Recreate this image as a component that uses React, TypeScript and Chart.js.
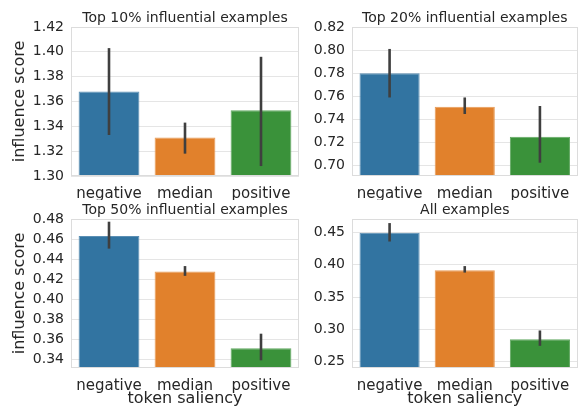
import React, { useEffect, useRef } from "react";
import { Chart, registerables } from "chart.js";

Chart.register(...registerables);

const categories = ["negative", "median", "positive"];

const top10Values = [1.368, 1.331, 1.353];
const top10Low = [1.333, 1.318, 1.308];
const top10High = [1.403, 1.343, 1.396];
const top10Ticks = [1.3, 1.32, 1.34, 1.36, 1.38, 1.4, 1.42];

const top20Values = [0.78, 0.751, 0.725];
const top20Low = [0.759, 0.7447, 0.7025];
const top20High = [0.801, 0.759, 0.7516];
const top20Ticks = [0.7, 0.72, 0.74, 0.76, 0.78, 0.8, 0.82];

const top50Values = [0.4637, 0.428, 0.351];
const top50Low = [0.451, 0.4237, 0.339];
const top50High = [0.478, 0.4335, 0.3657];
const top50Ticks = [0.34, 0.36, 0.38, 0.4, 0.42, 0.44, 0.46, 0.48];

const allValues = [0.4495, 0.3917, 0.285];
const allLow = [0.436, 0.388, 0.2748];
const allHigh = [0.4645, 0.398, 0.2985];
const allTicks = [0.25, 0.3, 0.35, 0.4, 0.45];

const barColors = ["#3274a1", "#e1812c", "#3a923a"];
const barEdges = ["#5b8fb4", "#e89a55", "#62a862"];
const TEXT = "#262626";
const FONT = "'DejaVu Sans', sans-serif";

type PanelCfg = {
  title: string;
  values: number[];
  low: number[];
  high: number[];
  ticks: number[];
  min: number;
  max: number;
  left: number;
  top: number;
  width: number;
  height: number;
  yw: number;
  xh: number;
  padRight: number;
  titlePadTop: number;
  titlePadBottom: number;
  showYTitle: boolean;
  showXTitle: boolean;
};

const errorBarPlugin = {
  id: "errorBars",
  afterDatasetsDraw(chart: any, _args: any, opts: any) {
    const { ctx } = chart;
    const meta = chart.getDatasetMeta(0);
    const y = chart.scales.y;
    ctx.save();
    ctx.strokeStyle = "#3f3f3f";
    ctx.lineWidth = 2.6;
    ctx.lineCap = "butt";
    meta.data.forEach((bar: any, i: number) => {
      const y1 = y.getPixelForValue(opts.low[i]);
      const y2 = y.getPixelForValue(opts.high[i]);
      ctx.beginPath();
      ctx.moveTo(bar.x, y1);
      ctx.lineTo(bar.x, y2);
      ctx.stroke();
    });
    ctx.restore();
  },
  afterDraw(chart: any) {
    const { ctx, chartArea: a } = chart;
    ctx.save();
    ctx.strokeStyle = "#dcdcdc";
    ctx.lineWidth = 1;
    ctx.strokeRect(Math.round(a.left) + 0.5, Math.round(a.top) + 0.5, Math.round(a.right - a.left) - 1, Math.round(a.bottom - a.top) - 1);
    ctx.restore();
  },
};

function Panel({ cfg }: { cfg: PanelCfg }) {
  const ref = useRef<HTMLCanvasElement | null>(null);
  useEffect(() => {
    if (!ref.current) return;
    const chart = new Chart(ref.current, {
      type: "bar",
      data: {
        labels: categories,
        datasets: [
          {
            data: cfg.values,
            backgroundColor: barColors,
            borderColor: barEdges,
            borderWidth: 1,
            categoryPercentage: 1,
            barPercentage: 0.8,
          },
        ],
      },
      options: {
        responsive: false,
        animation: false,
        devicePixelRatio: 1,
        layout: { padding: { left: 0, right: cfg.padRight, top: 0, bottom: 0 } },
        plugins: {
          legend: { display: false },
          tooltip: { enabled: false },
          title: {
            display: true,
            text: cfg.title,
            color: TEXT,
            fullSize: false,
            font: { family: FONT, size: 14, weight: "normal", lineHeight: 1.2 },
            padding: { top: cfg.titlePadTop, bottom: cfg.titlePadBottom },
          },
          errorBars: { low: cfg.low, high: cfg.high },
        } as any,
        scales: {
          x: {
            grid: { display: false },
            border: { display: false },
            ticks: { color: TEXT, font: { family: FONT, size: 15 }, padding: 1 },
            title: {
              display: cfg.showXTitle,
              text: "token saliency",
              color: TEXT,
              font: { family: FONT, size: 16, lineHeight: 1 },
              padding: { top: 0, bottom: 0.5 },
            },
            afterFit: (s: any) => {
              s.height = cfg.xh;
            },
          },
          y: {
            min: cfg.min,
            max: cfg.max,
            grid: { color: "#e5e5e5", lineWidth: 1, drawTicks: false },
            border: { display: false },
            ticks: {
              color: TEXT,
              font: { family: FONT, size: 14 },
              padding: 7,
              callback: (v: any) => Number(v).toFixed(2),
            },
            afterBuildTicks: (s: any) => {
              s.ticks = cfg.ticks.map((v) => ({ value: v }));
            },
            title: {
              display: cfg.showYTitle,
              text: "influence score",
              color: TEXT,
              font: { family: FONT, size: 16, lineHeight: 1 },
              padding: { top: 11.5, bottom: 0 },
            },
            afterFit: (s: any) => {
              s.width = cfg.yw;
            },
          },
        },
      } as any,
      plugins: [errorBarPlugin],
    });
    return () => chart.destroy();
  }, [cfg]);
  return (
    <canvas
      ref={ref}
      width={cfg.width}
      height={cfg.height}
      style={{ position: "absolute", left: cfg.left, top: cfg.top, width: cfg.width, height: cfg.height }}
    />
  );
}

const panels: PanelCfg[] = [
  {
    title: "Top 10% influential examples",
    values: top10Values, low: top10Low, high: top10High, ticks: top10Ticks,
    min: 1.3, max: 1.42,
    left: 0, top: 0, width: 300, height: 200, yw: 71, xh: 24, padRight: 1,
    titlePadTop: 9.6, titlePadBottom: 0.6, showYTitle: true, showXTitle: false,
  },
  {
    title: "Top 20% influential examples",
    values: top20Values, low: top20Low, high: top20High, ticks: top20Ticks,
    min: 0.691, max: 0.82,
    left: 300, top: 0, width: 279, height: 200, yw: 52, xh: 24, padRight: 1.5,
    titlePadTop: 9.6, titlePadBottom: 0.6, showYTitle: false, showXTitle: false,
  },
  {
    title: "Top 50% influential examples",
    values: top50Values, low: top50Low, high: top50High, ticks: top50Ticks,
    min: 0.3313, max: 0.4807,
    left: 0, top: 200, width: 300, height: 207, yw: 71, xh: 39, padRight: 1,
    titlePadTop: 2.1, titlePadBottom: 0.1, showYTitle: true, showXTitle: true,
  },
  {
    title: "All examples",
    values: allValues, low: allLow, high: allHigh, ticks: allTicks,
    min: 0.2405, max: 0.4708,
    left: 300, top: 200, width: 279, height: 207, yw: 52, xh: 39, padRight: 1.5,
    titlePadTop: 2.1, titlePadBottom: 0.1, showYTitle: false, showXTitle: true,
  },
];

export default function App() {
  return (
    <div style={{ position: "absolute", left: 0, top: 0, width: 579, height: 407, background: "#ffffff" }}>
      {panels.map((p) => (
        <Panel key={p.title} cfg={p} />
      ))}
    </div>
  );
}
